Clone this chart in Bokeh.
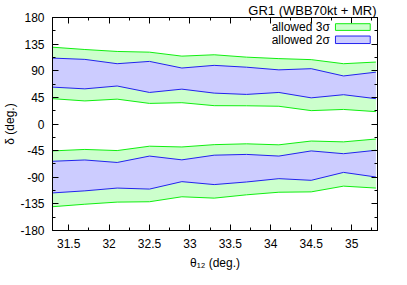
from bokeh.plotting import figure
from bokeh.models import (Range1d, FixedTicker, LinearAxis, NumeralTickFormatter, Label,
                          BoxAnnotation, ColumnDataSource, CustomJSTickFormatter)
from bokeh.embed import file_html
from bokeh.resources import INLINE

# theta_12 grid (deg.)
theta12 = [31.3, 31.7, 32.1, 32.5, 32.9, 33.3, 33.7, 34.1, 34.5, 34.9, 35.3]

# upper island (delta > 0)
up_3s_hi = [129.8, 125.9, 122.6, 121.4, 114.7, 117.0, 113.0, 110.5, 108.8, 101.9, 104.7]
up_2s_hi = [111.4, 109.2, 101.9, 105.8, 94.6, 99.1, 96.0, 91.5, 93.5, 81.2, 87.6]
up_2s_lo = [62.3, 59.4, 64.2, 53.3, 58.9, 52.2, 50.0, 53.3, 44.2, 49.5, 42.8]
up_3s_lo = [42.8, 39.0, 42.0, 34.8, 36.0, 31.0, 30.8, 30.0, 22.6, 24.6, 20.9]

# lower island (delta < 0)
lo_3s_hi = [-45.5, -43.0, -44.9, -37.5, -38.8, -34.9, -33.5, -35.2, -28.8, -30.2, -25.4]
lo_2s_hi = [-63.0, -60.8, -65.0, -54.2, -60.6, -52.7, -51.4, -54.2, -45.5, -50.2, -44.4]
lo_2s_lo = [-116.5, -113.0, -108.3, -110.0, -97.4, -102.4, -98.0, -92.4, -95.2, -81.8, -89.6]
lo_3s_lo = [-139.8, -135.6, -132.0, -131.4, -123.0, -125.3, -119.7, -115.3, -114.7, -105.0, -108.3]

x_ticks = [31.5, 32, 32.5, 33, 33.5, 34, 34.5, 35]
x_minor = [31.25, 31.75, 32.25, 32.75, 33.25, 33.75, 34.25, 34.75, 35.25]
y_ticks = [-180, -135, -90, -45, 0, 45, 90, 135, 180]
y_minor = [-157.5, -112.5, -67.5, -22.5, 22.5, 67.5, 112.5, 157.5]

title_text = "GR1 (WBB70kt + MR)"
legend_labels = ["allowed 3σ", "allowed 2σ"]

FONT = "Liberation Sans"
FS = "12px"
G_FILL, G_LINE = "#ccffcc", "#11ee11"
B_FILL, B_LINE = "#ccccff", "#2222ee"

src = ColumnDataSource(dict(x=theta12,
                            a1=up_3s_hi, a2=up_2s_hi, a3=up_2s_lo, a4=up_3s_lo,
                            b1=lo_3s_hi, b2=lo_2s_hi, b3=lo_2s_lo, b4=lo_3s_lo))

p = figure(width=407, height=285, output_backend="svg", toolbar_location=None,
           x_range=Range1d(31.3, 35.32), y_range=Range1d(-180, 180),
           min_border_left=51, min_border_right=30, min_border_top=15, min_border_bottom=55,
           x_axis_label="θ₁₂ (deg.)", y_axis_label="δ (deg.)", title=title_text)
p.grid.visible = False
p.outline_line_color = "black"
p.background_fill_color = "white"
p.border_fill_color = "white"
p.title.align = "right"
p.title.text_font = FONT
p.title.text_font_size = "13px"
p.title.text_font_style = "normal"
p.title.text_color = "black"
p.title.standoff = 0
p.title.offset = 1

# 3 sigma bands
p.varea(x="x", y1="a4", y2="a1", source=src, fill_color=G_FILL)
p.varea(x="x", y1="b4", y2="b1", source=src, fill_color=G_FILL)
for c in ["a1", "a4", "b1", "b4"]:
    p.line(x="x", y=c, source=src, line_color=G_LINE, line_width=1)
# 2 sigma bands
p.varea(x="x", y1="a3", y2="a2", source=src, fill_color=B_FILL)
p.varea(x="x", y1="b3", y2="b2", source=src, fill_color=B_FILL)
for c in ["a2", "a3", "b2", "b3"]:
    p.line(x="x", y=c, source=src, line_color=B_LINE, line_width=1)

blank = CustomJSTickFormatter(code="return '';")

def style_axis(ax, labels=True):
    ax.major_tick_in = 6
    ax.major_tick_out = 0
    ax.minor_tick_in = 3
    ax.minor_tick_out = 0
    ax.axis_line_color = "black"
    ax.major_tick_line_color = "black"
    ax.minor_tick_line_color = "black"
    ax.major_label_text_font = FONT
    ax.major_label_text_font_size = FS
    ax.major_label_text_color = "black"
    ax.axis_label_text_font = FONT
    ax.axis_label_text_font_size = FS
    ax.axis_label_text_font_style = "normal"
    ax.axis_label_text_color = "black"
    if not labels:
        ax.formatter = blank
        ax.major_label_standoff = 0

xt = FixedTicker(ticks=x_ticks, minor_ticks=x_minor)
yt = FixedTicker(ticks=y_ticks, minor_ticks=y_minor)

xa = p.xaxis[0]
xa.ticker = xt
xa.formatter = NumeralTickFormatter(format="0.[0]")
style_axis(xa)
xa.major_label_standoff = 8
xa.axis_label_standoff = 5

ya = p.yaxis[0]
ya.ticker = yt
ya.formatter = NumeralTickFormatter(format="0")
style_axis(ya)
ya.major_label_standoff = 8
ya.axis_label_standoff = 0

top = LinearAxis(ticker=xt)
style_axis(top, labels=False)
p.add_layout(top, "above")
right = LinearAxis(ticker=yt)
style_axis(right, labels=False)
p.add_layout(right, "right")

# legend (gnuplot style: text then sample box)
leg_rows = [(163.9, 169.5, 158.2, G_FILL, G_LINE), (142.3, 148.7, 136.0, B_FILL, B_LINE)]
for lab, (yc, yt_, yb, fc, lc) in zip(legend_labels, leg_rows):
    p.add_layout(BoxAnnotation(left=34.80, right=35.23, top=yt_, bottom=yb,
                               fill_color=fc, fill_alpha=1, line_color=lc, line_width=1, line_alpha=1))
    p.add_layout(Label(x=34.73, y=yc, text=lab, text_align="right", text_baseline="middle",
                       text_font=FONT, text_font_size=FS, text_color="black"))

with open("out.html", "w", encoding="utf-8") as f:
    f.write(file_html(p, INLINE))
